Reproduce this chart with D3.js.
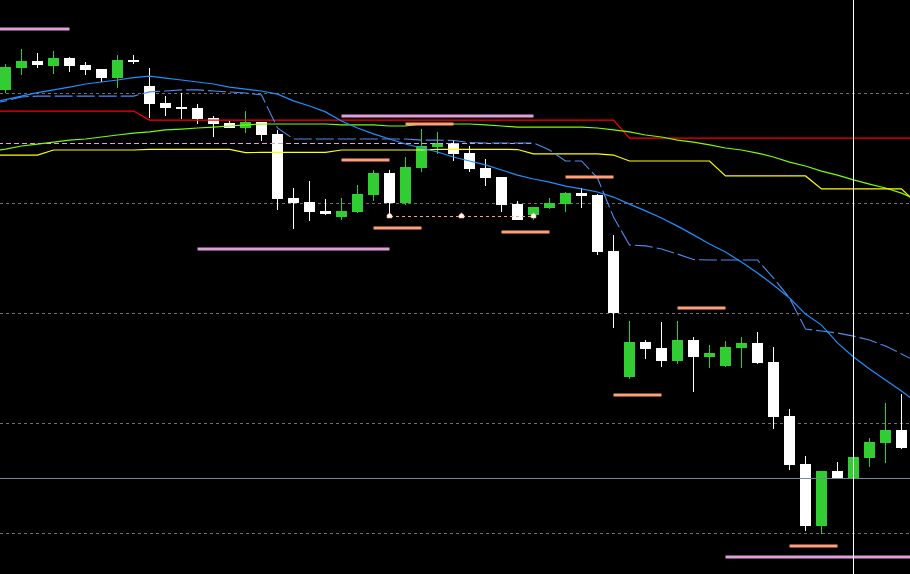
<!DOCTYPE html>
<html><head><meta charset="utf-8">
<script src="https://cdn.jsdelivr.net/npm/d3@7"></script>
<style>html,body{margin:0;padding:0;background:#000;overflow:hidden}svg{display:block}</style>
</head><body>
<svg id="chart" width="910" height="574"></svg>
<script>
// ---- OHLC data (bars 0..56) ----
const open=[150.015,150.114,150.145,150.123,150.159,150.127,150.109,150.068,150.150,150.032,
149.955,149.936,149.932,149.886,149.864,149.841,149.868,149.814,149.523,149.505,
149.464,149.436,149.459,149.536,149.636,149.500,149.659,149.755,149.773,149.727,
149.659,149.618,149.495,149.445,149.477,149.495,149.545,149.536,149.282,148.709,
148.868,148.841,148.782,148.877,148.800,148.759,148.841,148.864,148.777,148.532,
148.314,148.032,148.282,148.250,148.341,148.409,148.468];
const high=[150.133,150.200,150.182,150.191,150.164,150.141,150.109,150.173,150.173,150.114,
149.986,150.000,149.950,149.895,149.873,149.918,149.868,149.832,149.568,149.600,
149.518,149.523,149.582,149.650,149.650,149.709,149.836,149.823,149.786,149.759,
149.700,149.618,149.509,149.482,149.523,149.550,149.568,149.541,149.355,148.964,
148.877,148.959,148.964,148.891,148.855,148.873,148.891,148.914,148.845,148.564,
148.350,148.282,148.323,148.345,148.432,148.591,148.632];
const low=[150.000,150.082,150.114,150.086,150.095,150.082,150.050,150.023,150.132,149.886,
149.895,149.882,149.859,149.800,149.841,149.818,149.782,149.468,149.382,149.418,
149.445,149.423,149.455,149.509,149.445,149.491,149.641,149.723,149.691,149.641,
149.577,149.459,149.423,149.423,149.473,149.459,149.477,149.264,148.932,148.700,
148.791,148.755,148.768,148.641,148.750,148.755,148.750,148.768,148.473,148.286,
148.009,147.995,148.245,148.250,148.300,148.318,148.382];
const close=[150.118,150.145,150.127,150.159,150.123,150.105,150.068,150.150,150.141,149.950,
149.932,149.927,149.882,149.859,149.841,149.868,149.809,149.518,149.500,149.459,
149.450,149.464,149.541,149.636,149.500,149.664,149.759,149.773,149.723,149.655,
149.614,149.491,149.423,149.482,149.500,149.545,149.532,149.277,149.000,148.868,
148.836,148.782,148.877,148.800,148.818,148.845,148.864,148.773,148.527,148.309,
148.032,148.282,148.250,148.345,148.414,148.468,148.386];

// ---- indicator lines (bars -1..57, partly off-screen) ----
const maFast=[149.955,149.970,149.986,150.002,150.014,150.027,150.041,150.050,150.059,150.070,150.077,
150.068,150.059,150.050,150.041,150.027,150.018,150.009,149.995,149.964,149.941,
149.914,149.873,149.841,149.814,149.791,149.768,149.750,149.732,149.709,149.691,
149.673,149.650,149.627,149.609,149.595,149.577,149.564,149.550,149.527,149.495,
149.464,149.432,149.395,149.355,149.314,149.277,149.232,149.182,149.127,149.068,
148.995,148.945,148.864,148.800,148.745,148.695,148.645,148.591];
const maStep=[149.950,149.964,149.982,149.986,149.986,149.986,149.986,149.986,149.986,149.986,150.005,
150.009,150.014,150.014,150.009,150.005,150.000,149.991,149.841,149.791,149.791,
149.791,149.791,149.791,149.791,149.791,149.791,149.786,149.786,149.784,149.775,
149.773,149.773,149.773,149.773,149.741,149.691,149.691,149.614,149.436,149.309,
149.305,149.291,149.268,149.243,149.241,149.241,149.241,149.241,149.159,149.068,
148.927,148.918,148.909,148.895,148.877,148.850,148.814,148.777];
const redLine=[149.918,149.918,149.918,149.918,149.918,149.918,149.918,149.918,149.918,149.918,149.877,
149.877,149.877,149.877,149.877,149.877,149.877,149.877,149.877,149.877,149.877,
149.877,149.877,149.877,149.877,149.877,149.877,149.877,149.877,149.877,149.877,
149.877,149.877,149.877,149.877,149.877,149.877,149.877,149.877,149.877,149.795,
149.795,149.795,149.795,149.795,149.795,149.795,149.795,149.795,149.795,149.795,
149.795,149.795,149.795,149.795,149.795,149.795,149.795,149.795];
const greenLine=[149.736,149.745,149.759,149.768,149.777,149.786,149.791,149.800,149.809,149.818,149.823,
149.832,149.836,149.841,149.845,149.850,149.855,149.859,149.859,149.859,149.859,
149.859,149.855,149.855,149.855,149.850,149.850,149.859,149.859,149.859,149.859,
149.855,149.850,149.845,149.845,149.845,149.845,149.845,149.841,149.832,149.823,
149.809,149.800,149.786,149.777,149.764,149.750,149.741,149.727,149.709,149.686,
149.668,149.645,149.627,149.605,149.586,149.568,149.545,149.514];
const yellowLine=[149.718,149.718,149.718,149.718,149.741,149.741,149.741,149.741,149.741,149.741,149.744,
149.744,149.744,149.744,149.744,149.744,149.729,149.730,149.730,149.730,149.730,
149.730,149.741,149.741,149.741,149.741,149.741,149.741,149.744,149.744,149.744,
149.744,149.744,149.743,149.723,149.723,149.723,149.723,149.723,149.718,149.691,
149.691,149.691,149.691,149.691,149.691,149.623,149.623,149.623,149.623,149.623,
149.623,149.564,149.564,149.564,149.564,149.564,149.564,149.495];
const lineFirstBar=-1;

// ---- horizontal objects: [price, fromBar, toBar] ----
const plumSegments=[[150.291,-8,4],[149.895,21,33],[149.291,12,24],[147.891,45,62]];
const salmonSegments=[[149.859,25,28],[149.695,21,24],[149.386,23,26],[149.368,31,34],
[149.618,35,38],[149.023,42,45],[148.627,38,41],[147.941,49,52]];
const plumDashed=[149.773,-2,33];
const salmonDashed=[149.441,24,33];
const tradeMarks=[24,28.5,33];
const gridPrices=[150.0,149.5,149.0,148.5,148.0];
const levelLine=148.25;
const cursorBar=53;

const W=910,H=574;
const svg=d3.select('#chart');
svg.append('rect').attr('width',W).attr('height',H).attr('fill','#000');

const x=d3.scaleLinear().domain([0,56]).range([5.5,901.5]);
const y=d3.scaleLinear().domain([148,150]).range([533,93]);
const cy=p=>Math.round(y(p))+0.5;

// grid
svg.append('g').selectAll('line').data(gridPrices).join('line')
  .attr('x1',0).attr('x2',W).attr('y1',cy).attr('y2',cy)
  .attr('stroke','#6f6f6f').attr('stroke-width',1).attr('stroke-dasharray','3,3')
  .attr('shape-rendering','crispEdges');

// candles
const bars=d3.range(open.length).map(i=>({i,o:open[i],h:high[i],l:low[i],c:close[i]}));
const cg=svg.append('g');
const col=d=>d.c>=d.o?'#32cd32':'#ffffff';
cg.selectAll('line').data(bars).join('line')
  .attr('x1',d=>x(d.i)).attr('x2',d=>x(d.i))
  .attr('y1',d=>Math.round(y(d.h))).attr('y2',d=>Math.round(y(d.l)))
  .attr('stroke',col).attr('stroke-width',1).attr('shape-rendering','crispEdges');
cg.selectAll('rect').data(bars).join('rect')
  .attr('x',d=>x(d.i)-5.5).attr('width',11)
  .attr('y',d=>Math.round(y(Math.max(d.o,d.c))))
  .attr('height',d=>Math.max(2,Math.round(y(Math.min(d.o,d.c)))-Math.round(y(Math.max(d.o,d.c)))))
  .attr('fill',col).attr('shape-rendering','crispEdges');

// level line
svg.append('line').attr('x1',0).attr('x2',W).attr('y1',cy(levelLine)).attr('y2',cy(levelLine))
  .attr('stroke','#778899').attr('stroke-width',1).attr('shape-rendering','crispEdges');

// dashed horizontal objects
function hseg(seg,color,width,dash){
  svg.append('line').attr('x1',x(seg[1])).attr('x2',x(seg[2]))
    .attr('y1',cy(seg[0])).attr('y2',cy(seg[0]))
    .attr('stroke',color).attr('stroke-width',width)
    .attr('stroke-dasharray',dash||null).attr('shape-rendering','crispEdges');
}
hseg(plumDashed,'#dda0dd',1,'5,3');
hseg(salmonDashed,'#ffa07a',1,'3,3');

// indicator lines
const lineGen=arr=>d3.line().x((d,i)=>x(i+lineFirstBar)).y(d=>y(d))(arr);
const lg=svg.append('g').attr('fill','none');
lg.append('path').attr('d',lineGen(redLine)).attr('stroke','#ff0000').attr('stroke-width',1.2);
lg.append('path').attr('d',lineGen(greenLine)).attr('stroke','#7cfc00').attr('stroke-width',1.2);
lg.append('path').attr('d',lineGen(yellowLine)).attr('stroke','#ffff00').attr('stroke-width',1.2);
lg.append('path').attr('d',lineGen(maStep)).attr('stroke','#4f8cf0').attr('stroke-width',1.1).attr('stroke-dasharray','18,4');
lg.append('path').attr('d',lineGen(maFast)).attr('stroke','#1e90ff').attr('stroke-width',1.2);

// thick segments
plumSegments.forEach(s=>{
  svg.append('line').attr('x1',x(s[1])).attr('x2',x(s[2])).attr('y1',y(s[0])).attr('y2',y(s[0]))
    .attr('stroke','#dda0dd').attr('stroke-width',3);
});
salmonSegments.forEach(s=>{
  svg.append('line').attr('x1',x(s[1])).attr('x2',x(s[2])).attr('y1',y(s[0])).attr('y2',y(s[0]))
    .attr('stroke','#ffa07a').attr('stroke-width',3);
});

// trade marks
svg.append('g').selectAll('path').data(tradeMarks).join('path')
  .attr('d',b=>{const px=x(b),py=y(salmonDashed[0]);return `M${px-2.5},${py+2} L${px-2.5},${py-1} L${px},${py-3} L${px+2.5},${py-1} L${px+2.5},${py+2} Z`;})
  .attr('fill','#ffffff').attr('stroke','#ffa07a').attr('stroke-width',0.6);

// vertical cursor line
svg.append('line').attr('x1',x(cursorBar)).attr('x2',x(cursorBar)).attr('y1',0).attr('y2',H)
  .attr('stroke','#ffffff').attr('stroke-width',1).attr('shape-rendering','crispEdges');
</script>
</body></html>
